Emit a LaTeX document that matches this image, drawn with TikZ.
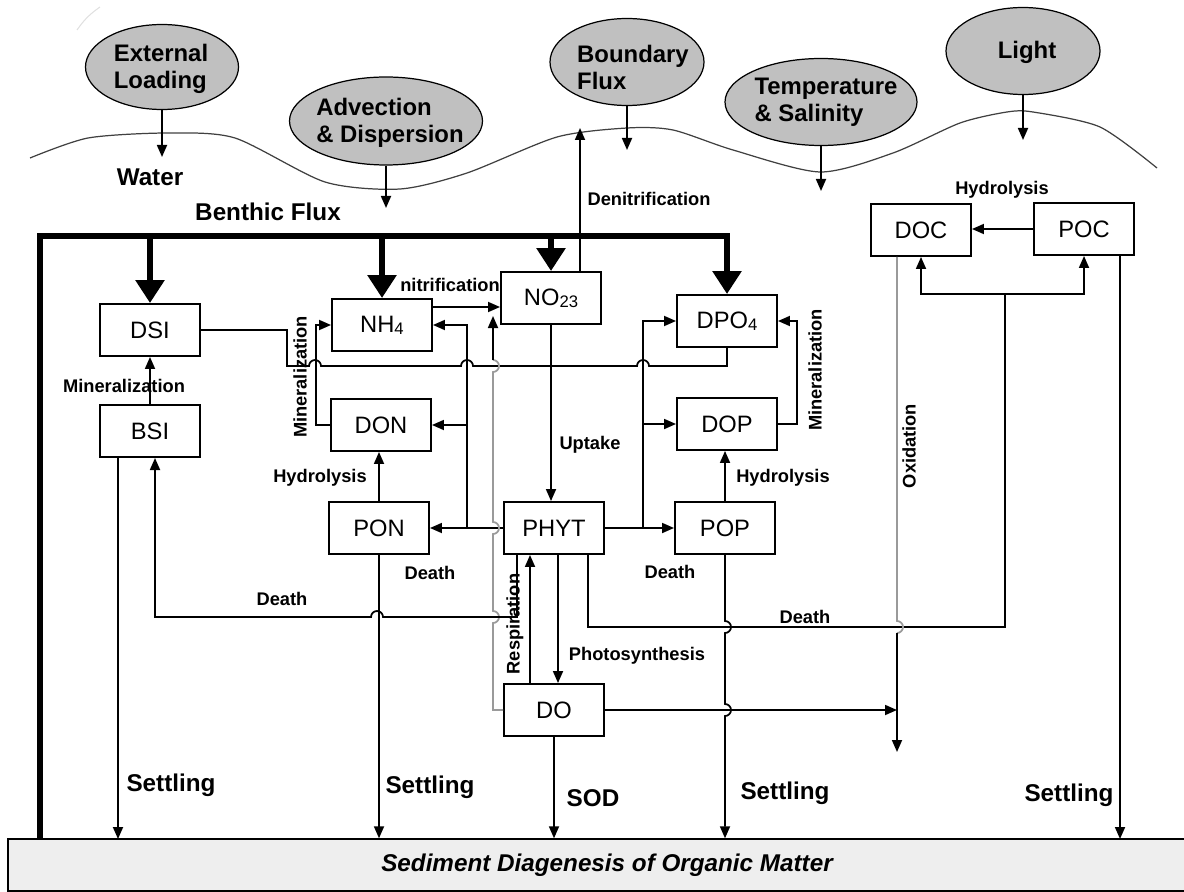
\documentclass[tikz,border=0pt]{standalone}
\usepackage{fontspec}
\setmainfont{Liberation Sans}
\usetikzlibrary{arrows.meta,shapes.geometric}
\definecolor{forcegray}{HTML}{C0C0C0}
\definecolor{bedgray}{HTML}{EEEEEE}
\definecolor{faintline}{HTML}{9A9A9A}
\newcommand\lsub[1]{\raisebox{-1pt}{\fontsize{9.5}{10}\selectfont#1}}
\newcommand\hop{1.2mm}

\begin{document}
\begin{tikzpicture}[x=0.2mm,y=-0.2mm,line width=1pt,>={Triangle[length=2.4mm,width=2mm]},
  pool/.style={draw,line width=1.1pt,minimum width=20mm,minimum height=10.4mm,inner sep=0pt,font=\fontsize{13.5}{15}\selectfont},
  force/.style={ellipse,draw,fill=forcegray,line width=0.7pt,minimum width=30.8mm,minimum height=17.4mm,inner sep=0pt},
  forcetext/.style={align=left,inner sep=0pt,font=\bfseries\fontsize{13.6}{15.4}\selectfont},
  lbl/.style={font=\bfseries\fontsize{10.4}{12}\selectfont,inner sep=0pt},
  biglbl/.style={font=\bfseries\fontsize{13.8}{15}\selectfont,inner sep=0pt},
  benthic/.style={line width=3.4pt,-{Triangle[length=4.6mm,width=5.6mm]}},
  surface/.style={black!75,line width=0.7pt},
  grayline/.style={faintline,line width=1pt}]
\useasboundingbox (0,0) rectangle (1184,892);

\node[draw,fill=bedgray,line width=0.8pt,minimum width=235.6mm,minimum height=10.4mm,inner sep=0pt] (sed) at (597,865) {};
\node[font=\bfseries\itshape\fontsize{13.8}{15}\selectfont,inner sep=0pt] (sedtxt) at (607,865) {Sediment Diagenesis of Organic Matter};

\draw[black!12,line width=0.6pt] (77,30) to[bend left=10] (100,7);
\draw[surface] plot[smooth,tension=0.45] coordinates {(30,158) (88,138) (167,133) (235,138) (325,182) (400,189) (467,173) (557,137) (627,128) (673,130) (733,150) (820,172) (893,153) (960,123) (1007,112) (1033,112) (1100,127) (1157,168)};

\node[force,minimum width=30.6mm,minimum height=17mm] (load) at (162,67) {};
\node[forcetext] (loadtxt) at (161,69) {External\\Loading};
\node[force,minimum width=38.6mm,minimum height=17.6mm] (adv) at (386,121) {};
\node[forcetext] (advtxt) at (390,123) {Advection\\\& Dispersion};
\node[force] (bnd) at (627,62) {};
\node[forcetext] (bndtxt) at (633,67) {Boundary\\Flux};
\node[force,minimum width=38.4mm] (temp) at (821,102) {};
\node[forcetext] (temptxt) at (826,102) {Temperature\\\& Salinity};
\node[force] (light) at (1023,51) {};
\node[forcetext] (lighttxt) at (1027,52) {Light};

\coordinate (wLoad) at (162,157);
\coordinate (wAdv) at (386,208);
\coordinate (wBnd) at (627,150);
\coordinate (wTemp) at (821,191);
\coordinate (wLight) at (1023,140);
\draw[->] (load) -- (wLoad);
\draw[->] (adv) -- (wAdv);
\draw[->] (bnd) -- (wBnd);
\draw[->] (temp) -- (wTemp);
\draw[->] (light) -- (wLight);

\node[biglbl] (water) at (150,177) {Water};
\node[biglbl] (bflux) at (268,212) {Benthic Flux};

\node[pool] (DSI) at (150,330) {DSI};
\node[pool] (BSI) at (150,431) {BSI};
\node[pool] (NH4) at (382,325) {NH\lsub{4}};
\node[pool] (DON) at (381,425) {DON};
\node[pool] (PON) at (379,528) {PON};
\node[pool] (NO23) at (551,298) {NO\lsub{23}};
\node[pool] (PHYT) at (554,528) {PHYT};
\node[pool] (DO) at (554,710) {DO};
\node[pool] (DPO4) at (727,321) {DPO\lsub{4}};
\node[pool] (DOP) at (727,424) {DOP};
\node[pool] (POP) at (725,528) {POP};
\node[pool] (DOC) at (921,230) {DOC};
\node[pool] (POC) at (1084,229) {POC};

\coordinate (bedL) at (40,839);
\coordinate (bTop) at (40,236);
\draw[benthic] (bedL) -- (bTop) -| (DPO4.north);
\draw[benthic] (bTop -| DSI.north) -- (DSI.north);
\draw[benthic] (bTop -| NH4.north) -- (NH4.north);
\draw[benthic] (bTop -| NO23.north) -- (NO23.north);

\coordinate (wDen) at (580,128);
\draw[->] (NO23.north -| wDen) -- (wDen);
\node[lbl] (denit) at (649,199) {Denitrification};

\draw[->] (POC.west) -- (POC.west -| DOC.east);
\node[lbl] (hydC) at (1002,190) {Hydrolysis};

\draw[->] (BSI) -- (DSI);
\node[lbl] (minS) at (124,386) {Mineralization};

\coordinate (hz) at (0,366);
\draw (DSI.east) -| (287,366) -- (309,366) arc[start angle=180,end angle=0,radius=\hop] -- (461,366) arc[start angle=180,end angle=0,radius=\hop] -- (637,366) arc[start angle=180,end angle=0,radius=\hop] -| (DPO4.south);

\draw[->] (DON.west) -- (316,425) |- (NH4.west);
\node[lbl,rotate=90] (minN) at (300,377) {Mineralization};

\draw[->] (PON.north) -- (PON.north |- DON.south);
\node[lbl] (hydN) at (320,478) {Hydrolysis};

\coordinate (nit) at (0,307);
\draw[->] (NH4.east |- nit) -- (NO23.west |- nit);
\node[lbl] (nitri) at (450,285) {nitrification};

\draw[->] (PHYT.west) -- (PON.east);
\coordinate (nBr) at (467,528);
\draw[->] (nBr) |- (NH4.east);
\draw[->] (nBr |- DON.east) -- (DON.east);
\node[lbl] (deathN) at (430,573) {Death};

\coordinate (doUp) at (493,360);
\coordinate (nitO) at (493,316);
\draw[grayline] (DO.west) -| (493,623) arc[start angle=-90,end angle=90,radius=\hop] -- (493,534) arc[start angle=-90,end angle=90,radius=\hop] -- (493,372) arc[start angle=-90,end angle=90,radius=\hop];
\draw[->] (doUp) -- (nitO);

\draw[->] (NO23.south) -- (NO23.south |- PHYT.north);
\node[lbl] (upt) at (590,445) {Uptake};

\draw[->] (PHYT.east) -- (POP.west);
\coordinate (pBr) at (643,528);
\draw[->] (pBr) |- (DPO4.west);
\draw[->] (pBr |- DOP.west) -- (DOP.west);
\node[lbl] (deathP) at (670,572) {Death};

\draw[->] (POP.north) -- (POP.north |- DOP.south);
\node[lbl] (hydP) at (783,478) {Hydrolysis};

\draw[->] (DOP.east) -- (797,424) |- (DPO4.east);
\node[lbl,rotate=90] (minP) at (815,370) {Mineralization};

\coordinate (photoX) at (558,0);
\coordinate (respX) at (530,0);
\draw[->] (PHYT.south -| photoX) -- (DO.north -| photoX);
\draw[->] (DO.north -| respX) -- (PHYT.south -| respX);
\node[lbl] (photo) at (637,656) {Photosynthesis};
\node[lbl,rotate=90] (resp) at (515,624) {Respiration};

\coordinate (dS) at (517,617);
\draw[->] (PHYT.south -| dS) -- (dS) -- (383,617) arc[start angle=0,end angle=180,radius=\hop] -- (155,617) -- (155,458);
\node[lbl] (deathS) at (282,599) {Death};

\coordinate (dC) at (588,627);
\coordinate (cBr) at (1005,294);
\draw (PHYT.south -| dC) -- (dC) -| (cBr);
\draw[<->] (DOC.south) |- (cBr) -| (POC.south);
\node[lbl] (deathC) at (805,617) {Death};

\coordinate (oxO) at (897,710);
\draw[->] (DO.east) -- (oxO);

\coordinate (oxEnd) at (897,752);
\draw[grayline] (DOC.south -| oxEnd) -- (897,621) arc[start angle=90,end angle=-90,radius=\hop];
\draw[->] (897,633) -- (oxEnd);
\node[lbl,rotate=90] (oxid) at (909,446) {Oxidation};

\coordinate (sB) at (118,839);
\coordinate (sC) at (1120,839);
\draw[->] (BSI.south -| sB) -- (sB);
\draw[->] (PON.south) -- (PON.south |- sed.north);
\draw[->] (DO.south) -- (DO.south |- sed.north);
\draw[->] (POP.south) -- (725,621) arc[start angle=90,end angle=-90,radius=\hop] -- (725,704) arc[start angle=90,end angle=-90,radius=\hop] -- (POP.south |- sed.north);
\draw[->] (POC.south -| sC) -- (sC);

\node[biglbl] (setS) at (171,785) {Settling};
\node[biglbl] (setN) at (430,787) {Settling};
\node[biglbl] (sod) at (593,798) {SOD};
\node[biglbl] (setP) at (785,793) {Settling};
\node[biglbl] (setC) at (1069,795) {Settling};
\end{tikzpicture}
\end{document}
